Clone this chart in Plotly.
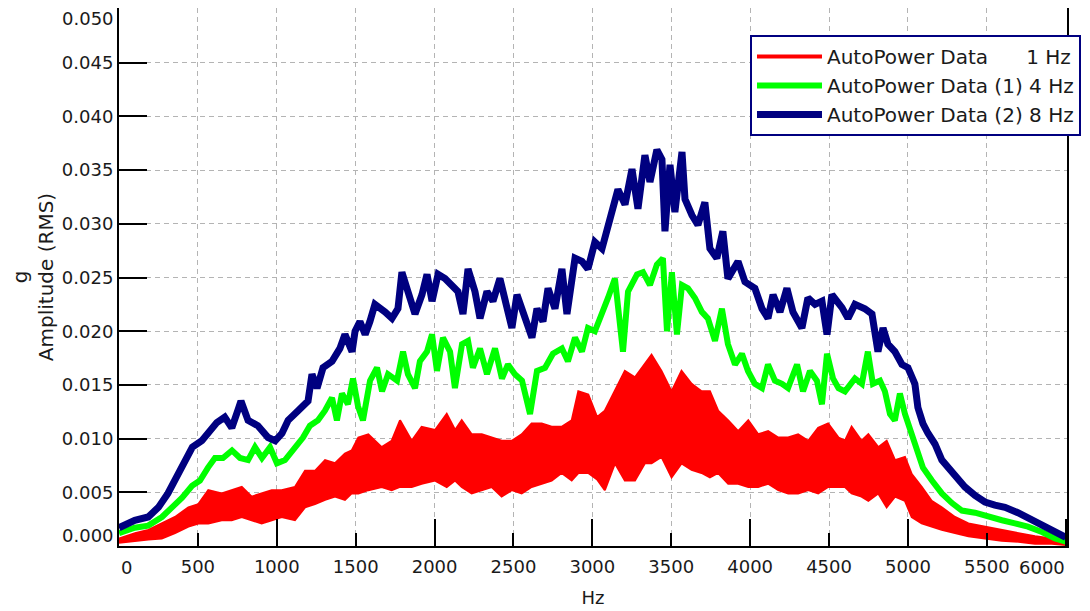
import plotly.graph_objects as go

# Frequencies in Hz, amplitudes in units of 1e-4 g (RMS)
blue_hz = [0, 100, 185, 250, 310, 375, 430, 465, 525, 577, 620, 670, 715, 757, 773, 818, 880, 945, 990,
           1033, 1072, 1135, 1198, 1223, 1255, 1293, 1350, 1400, 1432, 1477, 1496, 1527, 1560, 1590, 1622,
           1686, 1730, 1768, 1793, 1831, 1876, 1920, 1952, 1984, 2022, 2066, 2110, 2148, 2180, 2212, 2256,
           2288, 2332, 2370, 2414, 2446, 2490, 2522, 2560, 2617, 2649, 2687, 2719, 2763, 2807, 2839, 2890,
           2934, 2972, 3016, 3061, 3111, 3162, 3207, 3251, 3289, 3333, 3365, 3409, 3441, 3460, 3492, 3523,
           3568, 3587, 3631, 3669, 3713, 3745, 3789, 3827, 3859, 3923, 3967, 4030, 4075, 4113, 4145, 4189,
           4233, 4271, 4328, 4366, 4411, 4455, 4487, 4518, 4582, 4620, 4664, 4727, 4772, 4810, 4842, 4873,
           4917, 4962, 5000, 5044, 5063, 5095, 5127, 5171, 5215, 5253, 5298, 5361, 5425, 5488, 5551, 5615,
           5697, 5786, 5868, 5951, 6000]
blue_amp = [17, 24, 27, 36, 49, 68, 82, 92, 98, 107, 115, 120, 110, 128, 135, 117, 112, 101, 98,
            105, 117, 126, 135, 160, 147, 166, 172, 184, 197, 181, 200, 209, 197, 209, 225,
            218, 212, 221, 255, 237, 216, 234, 253, 228, 253, 249, 243, 237, 216, 258, 237,
            212, 237, 228, 249, 228, 203, 234, 216, 194, 221, 209, 240, 221, 258, 216, 268,
            265, 258, 283, 277, 305, 332, 318, 351, 314, 364, 339, 369, 360, 293, 355, 311,
            367, 323, 308, 299, 320, 277, 268, 293, 249, 265, 246, 240, 221, 212, 234, 218,
            240, 218, 203, 231, 225, 228, 197, 234, 222, 212, 225, 221, 216, 181, 203, 188,
            181, 169, 166, 151, 129, 114, 105, 95, 80, 73, 64, 55, 47, 41, 38, 36,
            31, 24, 18, 12, 8]

green_hz = [0, 100, 185, 272, 336, 400, 463, 513, 564, 608, 659, 716, 767, 818, 862, 906, 957, 1001, 1052,
            1115, 1166, 1210, 1261, 1305, 1350, 1381, 1413, 1451, 1483, 1515, 1546, 1591, 1635, 1667, 1705,
            1762, 1800, 1831, 1876, 1907, 1952, 1984, 2015, 2053, 2098, 2129, 2174, 2212, 2243, 2288, 2332,
            2383, 2427, 2465, 2509, 2554, 2605, 2649, 2700, 2750, 2807, 2845, 2890, 2934, 2972, 3016, 3061,
            3099, 3143, 3194, 3226, 3283, 3321, 3365, 3409, 3447, 3473, 3504, 3536, 3568, 3606, 3650, 3694,
            3732, 3777, 3821, 3859, 3904, 3948, 3986, 4030, 4075, 4113, 4157, 4202, 4240, 4297, 4335, 4379,
            4423, 4455, 4487, 4525, 4560, 4601, 4664, 4708, 4746, 4778, 4823, 4854, 4886, 4917, 4949, 4981,
            5025, 5057, 5095, 5152, 5215, 5279, 5342, 5425, 5507, 5596, 5678, 5760, 5849, 5932, 6000]
green_amp = [12, 17, 19, 27, 36, 45, 56, 61, 73, 82, 82, 89, 82, 80, 92, 82, 92, 77, 80,
             92, 101, 112, 117, 126, 138, 117, 142, 132, 156, 130, 117, 154, 166, 144, 160,
             154, 181, 160, 147, 172, 181, 197, 163, 194, 181, 147, 188, 191, 166, 184, 160,
             184, 156, 169, 160, 154, 123, 163, 166, 179, 184, 172, 194, 181, 203, 200, 215,
             231, 249, 181, 237, 253, 255, 243, 262, 268, 200, 255, 197, 243, 240, 231, 218,
             212, 191, 221, 188, 169, 179, 163, 151, 147, 169, 154, 151, 147, 169, 144, 163,
             154, 132, 179, 156, 147, 144, 156, 151, 181, 151, 154, 144, 123, 117, 142, 123,
             105, 89, 73, 61, 49, 40, 33, 31, 27, 24, 21, 18, 13, 7, 4]

red_hz = [0, 102, 186, 271, 355, 440, 503, 566, 651, 714, 778, 841, 904, 968, 1031, 1115, 1179, 1242,
          1306, 1369, 1432, 1475, 1517, 1580, 1665, 1728, 1781, 1855, 1918, 2003, 2077, 2130, 2172, 2235,
          2299, 2362, 2425, 2489, 2552, 2615, 2679, 2742, 2805, 2869, 2911, 2974, 3030, 3079, 3143, 3206,
          3270, 3333, 3375, 3438, 3502, 3565, 3629, 3692, 3745, 3797, 3861, 3924, 3988, 4051, 4114, 4178,
          4241, 4304, 4368, 4431, 4494, 4560, 4601, 4643, 4706, 4749, 4812, 4865, 4918, 4981, 5024, 5087,
          5150, 5214, 5298, 5383, 5488, 5594, 5700, 5805, 5911, 6000]
red_top = [7, 12, 15, 21, 27, 36, 39, 52, 49, 52, 55, 46, 49, 52, 52, 55, 70, 70,
           80, 77, 86, 89, 101, 104, 92, 98, 117, 98, 111, 108, 123, 108, 117, 104,
           104, 101, 98, 98, 104, 114, 114, 111, 111, 117, 144, 141, 120, 126, 144, 163,
           157, 169, 178, 163, 144, 163, 151, 144, 144, 126, 117, 107, 117, 104, 107, 101,
           101, 104, 98, 110, 114, 101, 98, 111, 98, 104, 92, 98, 80, 83, 67, 55,
           42, 36, 27, 21, 18, 15, 12, 9, 7, 5]
red_bot = [3, 5, 6, 7, 12, 18, 21, 21, 24, 24, 27, 24, 21, 24, 27, 24, 36, 39,
           43, 46, 43, 49, 49, 52, 55, 52, 55, 55, 58, 61, 55, 61, 55, 49,
           52, 55, 46, 52, 49, 55, 58, 61, 68, 61, 68, 68, 62, 52, 77, 61,
           61, 77, 77, 83, 64, 77, 71, 68, 64, 68, 58, 58, 55, 55, 58, 52,
           49, 49, 52, 49, 55, 55, 55, 49, 46, 42, 49, 36, 46, 42, 27, 21,
           18, 15, 12, 9, 7, 5, 4, 2, 2, 1]

# Tick values / labels
x_ticks = [500, 1000, 1500, 2000, 2500, 3000, 3500, 4000, 4500, 5000, 5500]
x_tick_labels = ["500", "1000", "1500", "2000", "2500", "3000", "3500", "4000", "4500", "5000", "5500"]
x_first_label, x_last_label = "0", "6000"
y_ticks = [0.005, 0.010, 0.015, 0.020, 0.025, 0.030, 0.035, 0.040, 0.045]
y_tick_labels = ["0.005", "0.010", "0.015", "0.020", "0.025", "0.030", "0.035", "0.040", "0.045"]
y_first_label, y_last_label = "0.000", "0.050"
X_MAX, Y_MAX = 6008, 0.0501

UNIT = 1e-4
RED, GREEN, BLUE = "#ff0000", "#00ff00", "#000080"
FONT = "DejaVu Sans"
TXT = "#1a1a1a"
NB = "\u00a0"

fig = go.Figure()
fig.add_trace(go.Scatter(x=red_hz, y=[v * UNIT for v in red_bot], mode="lines",
                         line=dict(color=RED, width=2), showlegend=False, hoverinfo="skip"))
fig.add_trace(go.Scatter(x=red_hz, y=[v * UNIT for v in red_top], mode="lines", fill="tonexty",
                         fillcolor=RED, line=dict(color=RED, width=2), showlegend=False, hoverinfo="skip"))
fig.add_trace(go.Scatter(x=[None], y=[None], mode="lines", line=dict(color=RED, width=4),
                         name="AutoPower Data" + NB * 6 + "1 Hz"))
fig.add_trace(go.Scatter(x=green_hz, y=[v * UNIT for v in green_amp], mode="lines",
                         line=dict(color=GREEN, width=6), name="AutoPower Data (1)" + NB + "4 Hz"))
fig.add_trace(go.Scatter(x=blue_hz, y=[v * UNIT for v in blue_amp], mode="lines",
                         line=dict(color=BLUE, width=7), name="AutoPower Data (2)" + NB + "8 Hz"))
# invisible trace to activate the tick-only overlay axis
fig.add_trace(go.Scatter(x=[None], y=[None], xaxis="x2", showlegend=False, hoverinfo="skip"))

grid = dict(showgrid=True, gridcolor="#b4b4b4", gridwidth=1, griddash="5px,4px")
fig.update_layout(
    width=1082, height=603,
    margin=dict(l=111, r=23, t=0, b=65),
    paper_bgcolor="white", plot_bgcolor="white",
    font=dict(family=FONT, size=18, color=TXT),
    xaxis=dict(range=[0, X_MAX], tickvals=x_ticks, ticktext=x_tick_labels, ticks="inside", ticklen=13,
               tickwidth=2, tickcolor="black", showline=True, linecolor="black", linewidth=2, mirror=True,
               zeroline=False, automargin=False, ticklabelstandoff=3,
               title=dict(text="Hz", font=dict(size=18), standoff=16), **grid),
    xaxis2=dict(range=[0, X_MAX], dtick=1000, tick0=0, ticks="inside", ticklen=27, tickwidth=2,
                tickcolor="black", overlaying="x", side="bottom", showticklabels=False,
                showgrid=False, zeroline=False, showline=False, automargin=False),
    yaxis=dict(range=[0, Y_MAX], tickvals=y_ticks, ticktext=y_tick_labels, ticks="inside",
               ticklen=28, tickwidth=2, tickcolor="black", showline=True, linecolor="black",
               linewidth=2, mirror=True, zeroline=False, automargin=False,
               title=dict(text="g<br>Amplitude (RMS)", font=dict(size=20), standoff=13), **grid),
    legend=dict(x=0.6656, y=0.9498, xanchor="left", yanchor="top", bgcolor="white",
                bordercolor=BLUE, borderwidth=2, font=dict(family=FONT, size=20, color=TXT),
                tracegroupgap=0, itemwidth=65, traceorder="normal"),
)

end_label_font = dict(family=FONT, size=18, color=TXT)
fig.add_annotation(text=y_last_label, xref="paper", x=0, xanchor="right", xshift=-3,
                   yref="y", y=Y_MAX, yanchor="middle", yshift=-10, showarrow=False, font=end_label_font)
fig.add_annotation(text=y_first_label, xref="paper", x=0, xanchor="right", xshift=-3,
                   yref="y", y=0, yanchor="middle", yshift=11, showarrow=False, font=end_label_font)
fig.add_annotation(text=x_first_label, xref="x", x=0, xanchor="left", xshift=0,
                   yref="paper", y=0, yanchor="middle", yshift=-21, showarrow=False, font=end_label_font)
fig.add_annotation(text=x_last_label, xref="x", x=X_MAX, xanchor="right", xshift=0,
                   yref="paper", y=0, yanchor="middle", yshift=-21, showarrow=False, font=end_label_font)

fig.write_html("out.html")
